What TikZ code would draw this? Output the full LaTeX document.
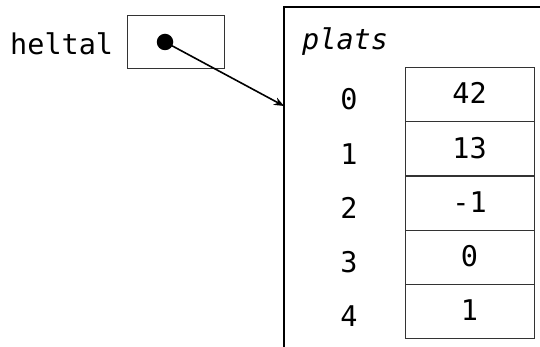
\documentclass[tikz,border=0pt]{standalone}
\usepackage{fontspec}
\setmonofont{DejaVu Sans Mono}
\usetikzlibrary{arrows.meta}
\begin{document}
\begin{tikzpicture}[x=1pt,y=-1pt,
  txt/.style={font=\fontsize{28.5}{32}\selectfont\ttfamily, inner sep=0pt},
  cell/.style={draw=black!80, line width=1.3pt, minimum width=129pt, minimum height=54.2pt, inner sep=0pt, anchor=north west},
  frameline/.style={line width=1.5pt},
  ptr/.style={line width=1.6pt, -{Stealth[length=10pt,width=8pt]}}]
\useasboundingbox (0,0) rectangle (540,347);
% variable
\node[txt, anchor=base west] (lbl) at (10,55) {heltal};
\node[draw=black!80, line width=1.3pt, minimum width=97pt, minimum height=53pt, inner sep=0pt, anchor=north west] (var) at (127,15) {};
\node[circle, fill=black, minimum size=16.5pt, inner sep=0pt] (dot) at (165,42) {};
% array frame
\draw[frameline] (541,7) -- (284,7) -- (284,348);
\coordinate (tgt) at (284,106);
\node[txt, anchor=base west] (name) at (302,50) {\itshape plats};
% cells
\foreach \i/\v in {0/42,1/13,2/-1,3/0,4/1}{
  \node[cell] (c\i) at (405,{67+54.2*\i}) {};
  \node[txt, anchor=base] (v\i) at ({469.5},{104+54.2*\i}) {\v};
  \node[txt, anchor=base] (i\i) at (349,{110+54.2*\i}) {\i};
}
\draw[ptr] (dot.center) -- (tgt);
\end{tikzpicture}
\end{document}
